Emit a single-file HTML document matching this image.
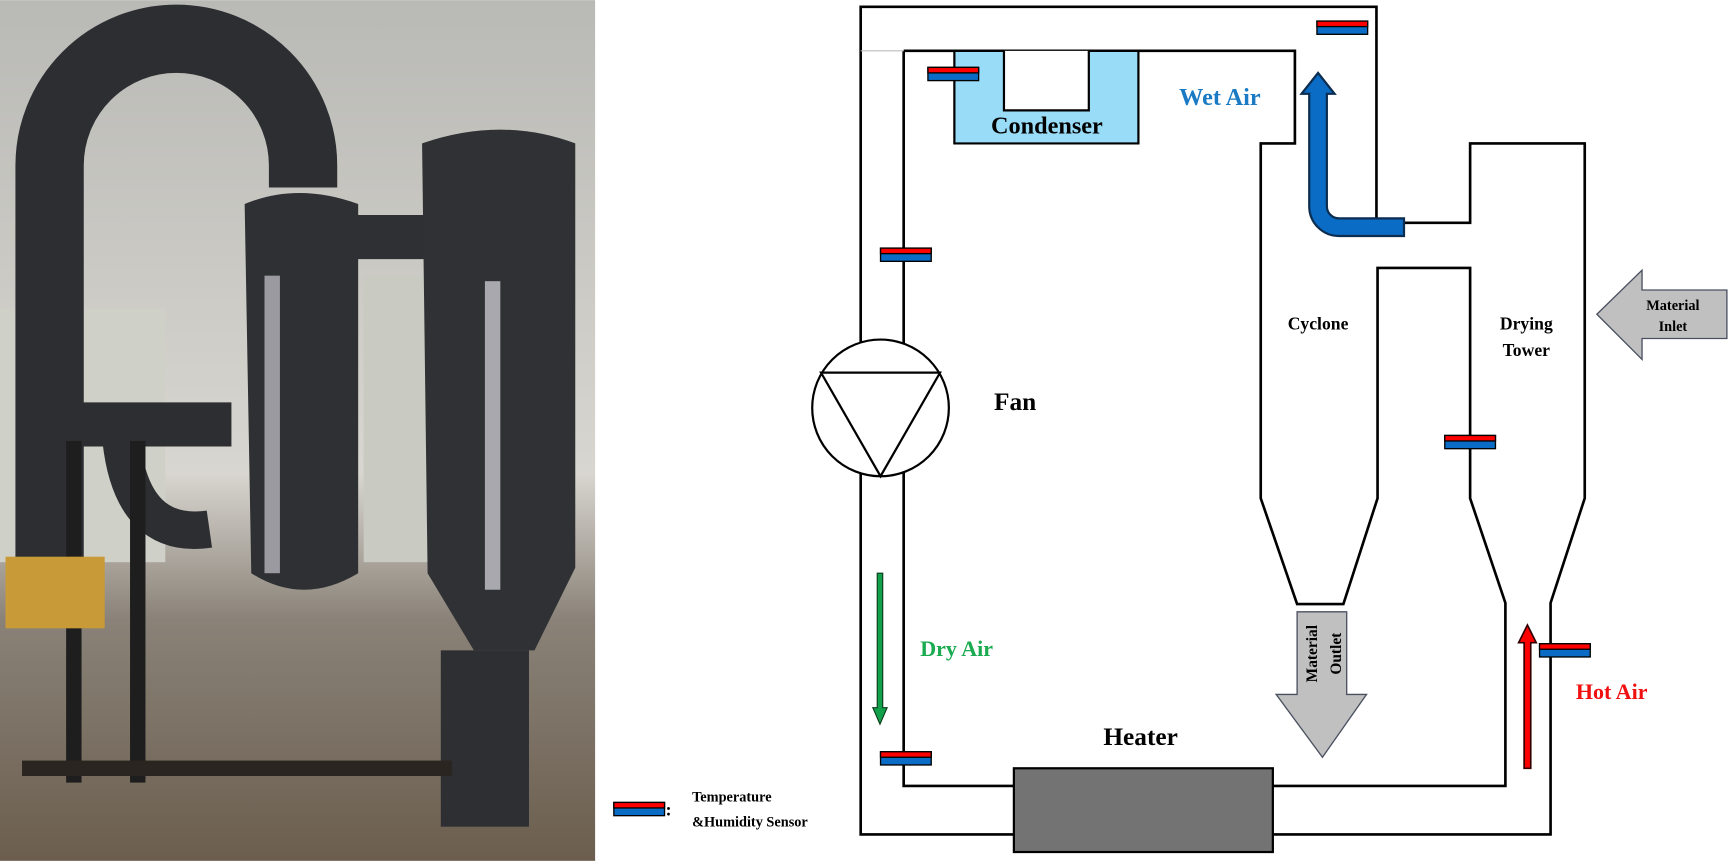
<!DOCTYPE html>
<html><head><meta charset="utf-8"><style>
html,body{margin:0;padding:0;background:#fff;}
svg{display:block;}
text{font-family:"Liberation Serif",serif;font-weight:bold;}
</style></head><body>
<svg width="1728" height="861" viewBox="0 0 1568 781" xmlns="http://www.w3.org/2000/svg">
<defs>
<linearGradient id="wall" x1="0" y1="0" x2="0" y2="1">
<stop offset="0" stop-color="#b9b9b5"/><stop offset="0.55" stop-color="#d8d6d0"/><stop offset="0.72" stop-color="#8a8278"/><stop offset="1" stop-color="#6b5e4e"/>
</linearGradient>
<g id="sens"><rect x="-23" y="-6" width="46" height="12" fill="#0a6cc4" stroke="#000" stroke-width="1.2"/><rect x="-23" y="-6" width="46" height="5" fill="#f00" stroke="#000" stroke-width="1.2"/></g>
</defs>
<rect x="0" y="0" width="540" height="781" fill="url(#wall)"/>
<rect x="0" y="280" width="150" height="230" fill="#cfd0c8"/>
<rect x="330" y="250" width="60" height="260" fill="#c9cbc2"/>
<path d="M45 520 V150 A115 115 0 0 1 275 150 V170" fill="none" stroke="#2d2e32" stroke-width="62"/>
<path d="M40 385 H210" stroke="#2d2e32" stroke-width="40"/>
<path d="M110 400 Q120 490 190 480" fill="none" stroke="#2d2e32" stroke-width="34"/>
<path d="M222 185 Q270 165 325 185 V520 Q275 550 228 520 Z" fill="#2f3034"/>
<path d="M305 215 H400" stroke="#2f3034" stroke-width="40"/>
<path d="M383 130 Q455 105 522 130 V515 L485 590 H430 L388 520 Z" fill="#303135"/>
<rect x="400" y="590" width="80" height="160" fill="#2e2f33"/>
<rect x="240" y="250" width="14" height="270" fill="#9a9aa0"/>
<rect x="440" y="255" width="14" height="280" fill="#a8a8ae"/>
<rect x="60" y="400" width="14" height="310" fill="#1e1e1e"/>
<rect x="118" y="400" width="14" height="310" fill="#1e1e1e"/>
<rect x="20" y="690" width="390" height="14" fill="#2a2520"/>
<rect x="5" y="505" width="90" height="65" fill="#c89a38"/>
<g fill="none" stroke="#000" stroke-width="2.4">
<path d="M781 6 H1249 V202 H1334 V130 H1438 V452 L1407 547 V757 H781 Z"/>
<path d="M820 46 H1175 V130 H1144 V452 L1177 548 H1219 L1250 452 V243 H1334 V452 L1366 547 V713 H1155"/>
<path d="M820 46 V713 H920"/>
</g>
<line x1="781" y1="46" x2="820" y2="46" stroke="#bbb" stroke-width="1"/>
<rect x="920" y="697" width="235" height="76" fill="#737373" stroke="#000" stroke-width="2"/>
<path d="M866 46 H1033 V130 H866 Z" fill="#99dcf7" stroke="#000" stroke-width="2"/>
<path d="M911 46 V100 H988 V46" fill="#fff" stroke="#000" stroke-width="2"/>
<text x="950" y="121" font-size="22" text-anchor="middle">Condenser</text>
<circle cx="799" cy="370" r="62" fill="#fff" stroke="#000" stroke-width="2"/>
<path d="M745 338 H853 L799 432 Z" fill="none" stroke="#000" stroke-width="2"/>
<text x="902" y="372" font-size="23">Fan</text>
<path d="M1274 214 H1215 A27 27 0 0 1 1188 187 V85 H1181 L1196 66 L1211 85 H1204 V187 A11 11 0 0 0 1215 198 H1274 Z" fill="#0a6cc4" stroke="#0c2d50" stroke-width="2"/>
<text x="1070" y="95" font-size="22" fill="#1a7ac4">Wet Air</text>
<path d="M796 520 H801 V642 H805 L798.5 657 L792 642 H796 Z" fill="#12a04a" stroke="#0a3a1a" stroke-width="1"/>
<text x="835" y="595" font-size="20" fill="#1aaa50">Dry Air</text>
<path d="M1383 697 V583 H1378 L1386 567 L1394 583 H1389 V697 Z" fill="#f00" stroke="#300" stroke-width="1.5"/>
<text x="1430" y="634" font-size="20" fill="#f01010">Hot Air</text>
<path d="M1177 555 H1222 V630 H1240 L1200 687 L1158 630 H1177 Z" fill="#c0c0c0" stroke="#4a5060" stroke-width="1.2"/>
<text transform="translate(1195,593) rotate(-90)" font-size="14" text-anchor="middle">Material</text>
<text transform="translate(1217,593) rotate(-90)" font-size="14" text-anchor="middle">Outlet</text>
<path d="M1449 285 L1490 245 V263 H1567 V307 H1490 V326 Z" fill="#c0c0c0" stroke="#4a5060" stroke-width="1.2"/>
<text x="1518" y="281" font-size="13" text-anchor="middle">Material</text>
<text x="1518" y="300" font-size="13" text-anchor="middle">Inlet</text>
<text x="1196" y="299" font-size="16" text-anchor="middle">Cyclone</text>
<text x="1385" y="299" font-size="16" text-anchor="middle">Drying</text>
<text x="1385" y="323" font-size="16" text-anchor="middle">Tower</text>
<text x="1035" y="676" font-size="23" text-anchor="middle">Heater</text>
<use href="#sens" x="1218" y="25"/>
<use href="#sens" x="865" y="67"/>
<use href="#sens" x="822" y="231"/>
<use href="#sens" x="1334" y="401"/>
<use href="#sens" x="1420" y="590"/>
<use href="#sens" x="822" y="688"/>
<use href="#sens" x="580" y="734"/>
<text x="604" y="740" font-size="16">:</text>
<text x="628" y="727" font-size="13">Temperature</text>
<text x="628" y="750" font-size="13">&amp;Humidity  Sensor</text>
</svg>
</body></html>
